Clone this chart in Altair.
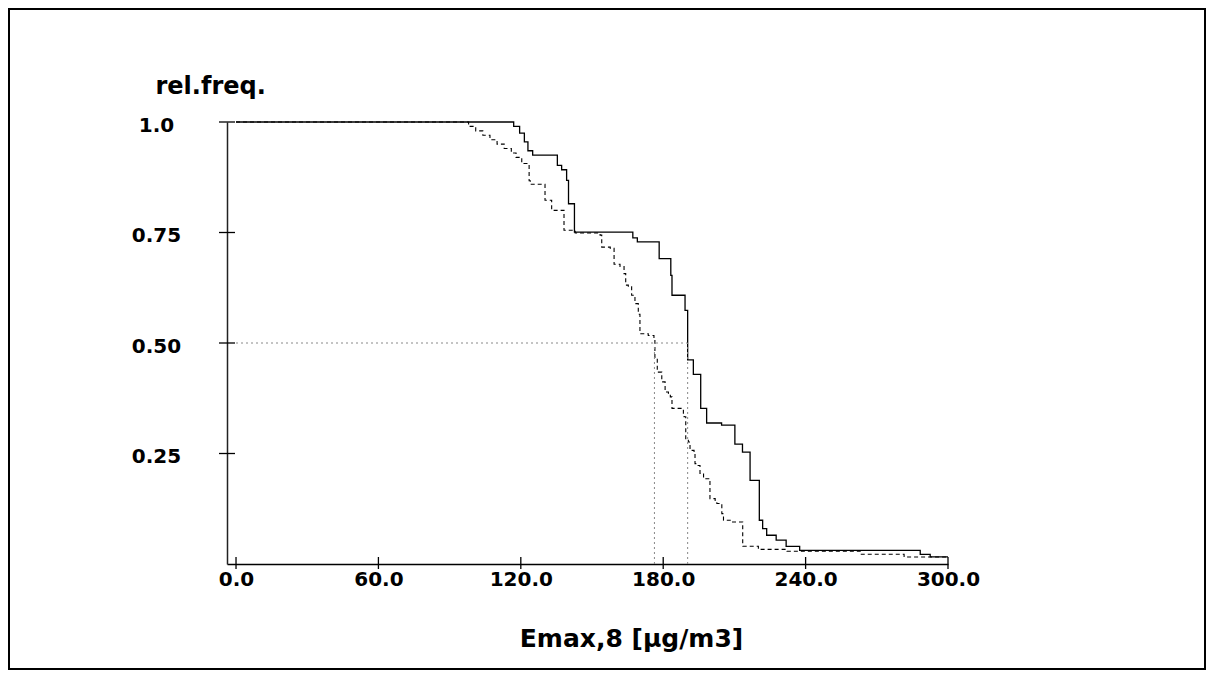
import altair as alt
import pandas as pd

# ---- data ----
solid_x = [0, 117, 119.5, 121.5, 123, 125, 135.4, 137.2, 139.3, 140.1, 142.6,
           167.2, 169.1, 178.3, 183.2, 183.7, 189.2, 190.3, 192.7, 195.8, 198.3,
           204.6, 210.2, 213.4, 216.6, 220.5, 221.9, 223.6, 227.6, 231.8, 237.5,
           288.3, 292.5, 300]
solid_y = [1.0, 0.99, 0.975, 0.955, 0.935, 0.925, 0.902, 0.892, 0.868, 0.815, 0.751,
           0.738, 0.729, 0.691, 0.653, 0.608, 0.574, 0.462, 0.429, 0.352, 0.319,
           0.314, 0.271, 0.253, 0.189, 0.099, 0.080, 0.065, 0.054, 0.040, 0.031,
           0.022, 0.016, 0.016]

dashed_x = [0, 98, 101, 104, 107, 110, 113, 116, 118, 120.4,
            123.5, 124, 130.2, 133.0, 138.2, 142.9, 153.4, 154.1, 157.7, 159.3,
            161.8, 163.5, 164.2, 165.3, 166.7, 168.1, 169.5, 170.2, 173.7, 176.1,
            176.5, 177.5, 179.4, 180.8, 182.2, 183.0, 183.7, 188.5, 188.8, 189.5,
            190.6, 191.3, 193.0, 193.4, 194.1, 195.5, 197.0, 199.7, 201.9, 202.6,
            204.7, 205.4, 208.9, 213.5, 220.1, 232.1, 263, 281.5, 300]
dashed_y = [1.0, 0.99, 0.98, 0.97, 0.96, 0.95, 0.94, 0.93, 0.92, 0.906,
            0.867, 0.859, 0.823, 0.800, 0.755, 0.749, 0.744, 0.717, 0.714, 0.678,
            0.673, 0.657, 0.631, 0.627, 0.608, 0.589, 0.565, 0.521, 0.517, 0.510,
            0.465, 0.434, 0.412, 0.389, 0.386, 0.378, 0.352, 0.340, 0.333, 0.280,
            0.276, 0.257, 0.253, 0.227, 0.223, 0.205, 0.193, 0.148, 0.144, 0.137,
            0.114, 0.099, 0.095, 0.040, 0.033, 0.029, 0.022, 0.016, 0.016]

medians = [176.3, 190.3]
median_level = 0.5

x_ticks = [0, 60, 120, 180, 240, 300]
y_ticks = [0.25, 0.5, 0.75, 1.0]

x_title = "Emax,8 [μg/m3]"
y_title = "rel.freq."

FONT = "DejaVu Sans"
W, H = 721, 442

solid_df = pd.DataFrame({"x": solid_x, "y": solid_y})
dashed_df = pd.DataFrame({"x": dashed_x, "y": dashed_y})
hline_df = pd.DataFrame({"x": [0], "x2": [max(medians)], "y": [median_level]})
vline_df = pd.DataFrame({"x": medians, "y": [0] * len(medians), "y2": [median_level] * len(medians)})
xt_df = pd.DataFrame({"x": x_ticks})
yt_df = pd.DataFrame({"y": y_ticks})

xscale = alt.Scale(domain=[-3.8, 300], nice=False, zero=False)
yscale = alt.Scale(domain=[0, 1], nice=False, zero=False)

x_axis = alt.Axis(
    values=x_ticks, format=".1f", grid=False, tickSize=0, labelPadding=5,
    labelFont=FONT, labelFontSize=20, labelFontWeight="bold", labelColor="black",
    labelFlush=False, labelOverlap=False, labelAlign="center",
    domainColor="black", domainWidth=1.5,
    title=x_title, titleFont=FONT, titleFontSize=25, titleFontWeight="bold",
    titleColor="black", titleX=404, titleY=82, titleAlign="center",
    titleBaseline="alphabetic",
)
y_axis = alt.Axis(
    values=y_ticks, grid=False, tickSize=0, labelPadding=71,
    labelExpr="datum.value == 1 ? '1.0' : format(datum.value, '.2f')",
    labelFont=FONT, labelFontSize=20, labelFontWeight="bold", labelColor="black",
    labelAlign="center", labelBaseline="middle", labelOffset=3,
    labelFlush=False, labelOverlap=False,
    domainColor="#222", domainWidth=1.5,
    title=y_title, titleFont=FONT, titleFontSize=24, titleFontWeight="bold",
    titleColor="black", titleAngle=0, titleX=-72, titleY=-28.5,
    titleAlign="left", titleBaseline="alphabetic",
)

solid = alt.Chart(solid_df).mark_line(
    interpolate="step-after", color="black", strokeWidth=1.3
).encode(
    x=alt.X("x:Q", scale=xscale, axis=x_axis),
    y=alt.Y("y:Q", scale=yscale, axis=y_axis),
)

dashed = alt.Chart(dashed_df).mark_line(
    interpolate="step-after", color="black", strokeWidth=1.1, strokeDash=[4, 3]
).encode(
    x="x:Q",
    y="y:Q",
)

hline = alt.Chart(hline_df).mark_rule(
    color="#888", strokeWidth=1, strokeDash=[2, 3]
).encode(
    x="x:Q", x2="x2:Q", y="y:Q"
)

vline = alt.Chart(vline_df).mark_rule(
    color="#888", strokeWidth=1, strokeDash=[2, 3]
).encode(
    x="x:Q", y="y:Q", y2="y2:Q"
)

xticks = alt.Chart(xt_df).mark_rule(color="black", strokeWidth=1.3).encode(
    x="x:Q", y=alt.value(H - 7), y2=alt.value(H + 5)
)
yticks = alt.Chart(yt_df).mark_rule(color="black", strokeWidth=1.3).encode(
    y="y:Q", x=alt.value(-8), x2=alt.value(8)
)

frame = alt.Chart(alt.Data(values=[{}])).mark_rect(
    fillOpacity=0, stroke="black", strokeWidth=2
).encode(
    x=alt.value(-218), x2=alt.value(978), y=alt.value(-113), y2=alt.value(547)
)

chart = alt.layer(
    solid, dashed, hline, vline, xticks, yticks, frame
).properties(
    width=W, height=H,
    padding={"left": 219, "top": 114, "right": 258, "bottom": 106},
    autosize=alt.AutoSizeParams(type="none"),
    background="white",
).configure_view(strokeWidth=0)

chart.save("out.html", embed_options={"renderer": "svg", "actions": False})
